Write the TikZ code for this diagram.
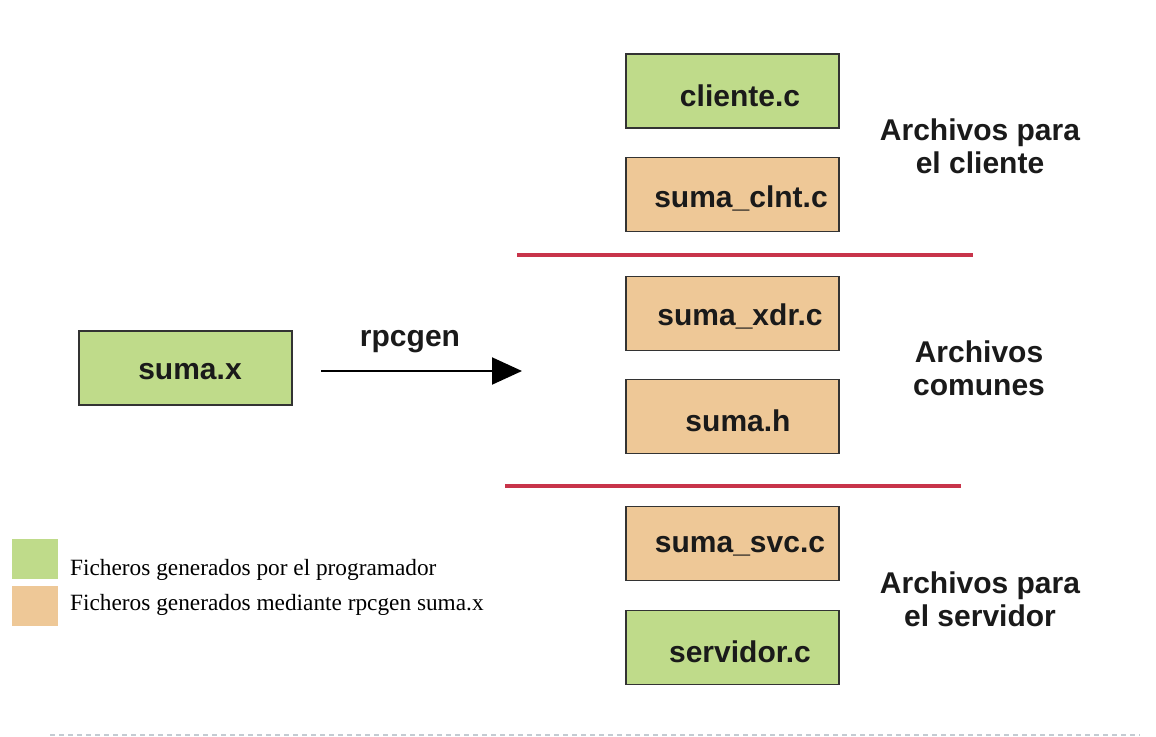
\documentclass[tikz,border=0pt]{standalone}
\usepackage{fontspec}
\setmainfont{Liberation Serif}
\setsansfont{Liberation Sans}
\usetikzlibrary{arrows.meta}
\definecolor{progGreen}{HTML}{BFDB8A}
\definecolor{genOrange}{HTML}{EEC897}
\definecolor{sepRed}{HTML}{C8344A}
\definecolor{txtDark}{HTML}{1A1A1A}
\definecolor{dashGray}{HTML}{C4CBD2}
\tikzset{
  filebox/.style={draw=black!80, line width=1.3pt, minimum width=213pt, minimum height=74pt, inner sep=0pt},
  greenbox/.style={filebox, fill=progGreen},
  orangebox/.style={filebox, fill=genOrange},
  boxtext/.style={font=\sffamily\bfseries\fontsize{30}{35}\selectfont, text=txtDark, inner sep=0pt},
  grouptext/.style={font=\sffamily\bfseries\fontsize{30}{33}\selectfont, text=txtDark, align=center, inner sep=0pt},
  legendtext/.style={font=\rmfamily\fontsize{23.3}{27}\selectfont, text=black, anchor=base west, inner sep=0pt},
  separator/.style={draw=sepRed, line width=3.5pt},
  legendsq/.style={minimum width=46pt, minimum height=40pt, inner sep=0pt, draw=none}
}
\begin{document}
\begin{tikzpicture}[x=1pt, y=-1pt]
\path[use as bounding box] (0,0) rectangle (1156,736);

% source file
\node[greenbox] (sumax) at (185.5,368) {};
\node[boxtext] (sumaxT) at (190,372) {suma.x};

% client files
\node[greenbox] (cliente) at (732.5,91) {};
\node[boxtext] (clienteT) at (740,96) {cliente.c};
\node[orangebox] (clnt) at (732.5,194.5) {};
\node[boxtext] (clntT) at (741,198) {suma\_clnt.c};

% common files
\node[orangebox] (xdr) at (732.5,313.5) {};
\node[boxtext] (xdrT) at (740,316) {suma\_xdr.c};
\node[orangebox] (sumah) at (732.5,416.5) {};
\node[boxtext] (sumahT) at (738,421) {suma.h};

% server files
\node[orangebox] (svc) at (732.5,543.5) {};
\node[boxtext] (svcT) at (740,546) {suma\_svc.c};
\node[greenbox] (servidor) at (732.5,647.5) {};
\node[boxtext] (servidorT) at (740,652) {servidor.c};

% separators
\coordinate (sepAl) at (517,255);
\coordinate (sepAr) at (973,255);
\coordinate (sepBl) at (505,486);
\coordinate (sepBr) at (961,486);
\draw[separator] (sepAl) -- (sepAr);
\draw[separator] (sepBl) -- (sepBr);

% group labels
\node[grouptext] (grpCliente) at (980,146) {Archivos para\\el cliente};
\node[grouptext] (grpComunes) at (979,368) {Archivos\\comunes};
\node[grouptext] (grpServidor) at (980,599) {Archivos para\\el servidor};

% rpcgen arrow
\coordinate (arrStart) at (321,371);
\coordinate (arrEnd) at (522,371);
\draw[line width=2pt, draw=black, -{Triangle[length=30pt,width=27pt]}] (arrStart) -- (arrEnd);
\node[boxtext] (rpcgen) at (410,342) {rpcgen};

% legend
\node[legendsq, fill=progGreen] (legG) at (35,558.5) {};
\node[legendsq, fill=genOrange] (legO) at (35,606) {};
\node[legendtext] (legGT) at (70,575) {Ficheros generados por el programador};
\node[legendtext] (legOT) at (70,610) {Ficheros generados mediante rpcgen suma.x};

% bottom dashed rule
\coordinate (ruleL) at (50,735);
\coordinate (ruleR) at (1140,735);
\draw[draw=dashGray, line width=1.5pt, dash pattern=on 5pt off 4pt] (ruleL) -- (ruleR);
\end{tikzpicture}
\end{document}
